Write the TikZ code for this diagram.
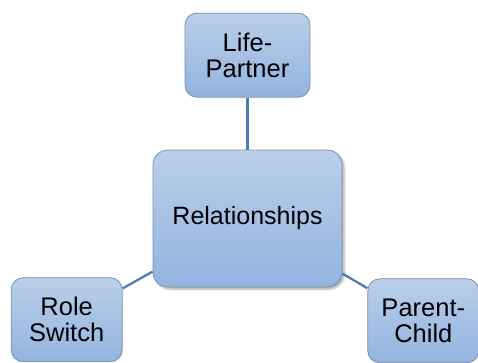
\documentclass[tikz,border=0pt]{standalone}
\usepackage{fontspec}
\setmainfont{Liberation Sans}
\usetikzlibrary{positioning,shadows.blur}
\definecolor{AzulArriba}{HTML}{BACFEA}
\definecolor{AzulAbajo}{HTML}{93B3DF}
\definecolor{BordeCaja}{HTML}{7C8FA8}
\definecolor{AzulLinea}{HTML}{4A7EBB}
\tikzstyle{CajaCentro}=[rectangle, rounded corners=15pt, draw=BordeCaja, line width=0.8pt, top color=AzulArriba, bottom color=AzulAbajo, inner sep=0pt, align=center, minimum width=189pt, minimum height=137pt, font=\fontsize{25}{30}\selectfont, blur shadow={shadow xshift=2pt, shadow yshift=-2pt, shadow blur steps=6, shadow opacity=35}]
\tikzstyle{CajaRama}=[rectangle, rounded corners=12pt, draw=BordeCaja, line width=0.8pt, top color=AzulArriba, bottom color=AzulAbajo, inner sep=0pt, align=center, minimum height=84pt, font=\fontsize{25.5}{26}\selectfont]
\tikzstyle{Enlace}=[-, line width=2.3pt, draw=AzulLinea]

\begin{document}
\begin{tikzpicture}[x=1pt, y=1pt]
			\useasboundingbox (0,0) rectangle (478,362);

			%Cajas
			\node[CajaCentro]	(relaciones)	at (247.5,143.5)								{Relationships};
			\node[CajaRama, minimum width=125pt]	(pareja)	[above=52pt of relaciones]		{Life-\\Partner};
			\node[CajaRama, minimum width=111pt]	(cambio)	[below left=-10pt and 30pt of relaciones]	{Role\\Switch};
			\node[CajaRama, minimum width=111pt]	(padres)	[below right=-9pt and 25pt of relaciones]	{Parent-\\Child};

			%Lineas
			\draw[Enlace] (pareja) -- (relaciones);
			\draw[Enlace] (cambio) -- (relaciones);
			\draw[Enlace] (padres) -- (relaciones);

		\end{tikzpicture}
\end{document}
